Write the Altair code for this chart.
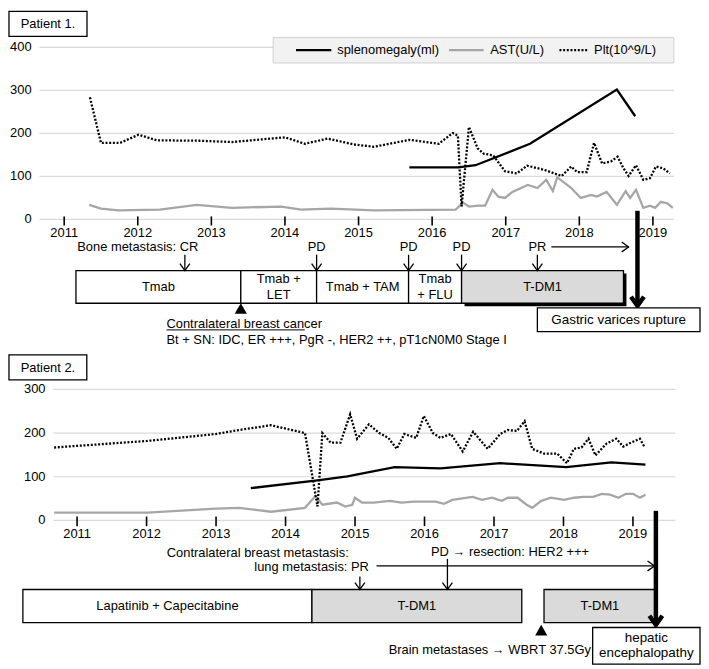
import altair as alt
import pandas as pd

FONT = "Liberation Sans"
FS = 13
GRID_C = "#d9d9d9"
AST_C = "#a6a6a6"
STIP_C = "#dadada"
DOT = [2, 1.7]
LW = 2.3

# ---------------- Patient 1 data ----------------
p1_plt_t = [2011.35, 2011.50, 2011.76, 2012.01, 2012.26, 2012.84, 2013.28, 2014.00, 2014.27, 2014.58,
            2014.95, 2015.21, 2015.69, 2016.09, 2016.28, 2016.35, 2016.40, 2016.50, 2016.62, 2016.70,
            2016.83, 2016.99, 2017.15, 2017.29, 2017.53, 2017.76, 2017.89, 2017.97, 2018.10, 2018.20,
            2018.31, 2018.43, 2018.52, 2018.60, 2018.67, 2018.77, 2018.87, 2018.96, 2019.04, 2019.14,
            2019.23]
p1_plt_v = [284, 178, 178, 197, 184, 183, 180, 191, 176, 188,
            174, 169, 185, 176, 201, 195, 30, 215, 165, 153,
            149, 112, 107, 125, 115, 101, 123, 110, 110, 178,
            130, 135, 146, 119, 101, 126, 92, 96, 123, 119,
            107]
p1_spl_t = [2015.69, 2016.36, 2016.59, 2017.33, 2018.51, 2018.76]
p1_spl_v = [121, 121, 126, 176, 302, 240]
p1_ast_t = [2011.34, 2011.50, 2011.74, 2012.30, 2012.80, 2013.28, 2013.95, 2014.22, 2014.62, 2015.21,
            2016.32, 2016.42, 2016.50, 2016.63, 2016.72, 2016.82, 2016.90, 2016.99, 2017.09, 2017.30,
            2017.43, 2017.55, 2017.64, 2017.70, 2017.80, 2017.89, 2018.02, 2018.16, 2018.24, 2018.37,
            2018.51, 2018.63, 2018.69, 2018.77, 2018.87, 2018.96, 2019.03, 2019.11, 2019.20, 2019.27]
p1_ast_v = [34, 25, 21, 23, 34, 27, 30, 23, 25, 21,
            23, 39, 30, 32, 32, 69, 53, 50, 64, 80,
            73, 92, 66, 98, 85, 73, 50, 57, 53, 64,
            34, 66, 50, 69, 27, 32, 27, 41, 37, 27]

p1_tx_start = [2011.16, 2013.40, 2014.43, 2015.68, 2016.40]
p1_tx_end = [2013.40, 2014.43, 2015.68, 2016.40, 2018.60]
p1_tx_label = ["Tmab", "Tmab +\nLET", "Tmab + TAM", "Tmab\n+ FLU", "T-DM1"]
p1_tx_kind = ["plain", "plain", "plain", "plain", "tdm1"]

p1_evt_t = [2012.64, 2014.43, 2015.68, 2016.40, 2017.43]
p1_evt_label = ["Bone metastasis: CR", "PD", "PD", "PD", "PR"]
p1_evt_label_t = [2012.00, 2014.43, 2015.68, 2016.40, 2017.43]
p1_resp_span = [2017.62, 2018.67]
p1_contra_t = 2013.40
p1_contra_title = "Contralateral breast cancer"
p1_contra_detail = "Bt + SN: IDC, ER +++, PgR -, HER2 ++, pT1cN0M0 Stage I"
p1_outcome_t = 2018.79
p1_outcome_text = "Gastric varices rupture"

# ---------------- Patient 2 data ----------------
p2_plt_t = [2010.67, 2012.01, 2013.00, 2013.33, 2013.79, 2014.28, 2014.46, 2014.53, 2014.65, 2014.79,
            2014.93, 2015.03, 2015.20, 2015.35, 2015.48, 2015.60, 2015.71, 2015.88, 2015.99, 2016.12,
            2016.23, 2016.38, 2016.55, 2016.70, 2016.91, 2017.09, 2017.20, 2017.33, 2017.44, 2017.55,
            2017.72, 2017.91, 2018.05, 2018.15, 2018.26, 2018.36, 2018.46, 2018.62, 2018.76, 2018.86,
            2018.97, 2019.10, 2019.17]
p2_plt_v = [167, 182, 198, 207, 218, 200, 32, 200, 178, 178,
            243, 187, 220, 200, 189, 164, 198, 189, 239, 200,
            189, 198, 158, 203, 164, 198, 207, 205, 227, 164,
            153, 153, 131, 164, 167, 187, 149, 176, 187, 169,
            178, 187, 167]
p2_spl_t = [2013.50, 2014.46, 2014.89, 2015.57, 2016.23, 2017.09, 2018.04, 2018.69, 2019.18]
p2_spl_v = [74, 92, 101, 122, 119, 131, 122, 133, 128]
p2_ast_t = [2010.67, 2012.01, 2013.00, 2013.33, 2013.79, 2014.28, 2014.43, 2014.53, 2014.74, 2014.86,
            2014.96, 2015.00, 2015.10, 2015.27, 2015.50, 2015.67, 2015.84, 2016.02, 2016.16, 2016.28,
            2016.40, 2016.52, 2016.69, 2016.83, 2016.97, 2017.11, 2017.20, 2017.34, 2017.47, 2017.55,
            2017.68, 2017.82, 2018.01, 2018.15, 2018.29, 2018.43, 2018.55, 2018.67, 2018.79, 2018.90,
            2019.00, 2019.10, 2019.18]
p2_ast_v = [18, 18, 27, 29, 20, 29, 56, 36, 41, 32,
            36, 52, 41, 41, 45, 41, 43, 43, 43, 38,
            47, 50, 54, 47, 52, 45, 52, 52, 36, 29,
            45, 52, 47, 52, 54, 54, 61, 59, 52, 61,
            61, 52, 59]

p2_tx_start = [2010.22, 2014.38, 2017.72]
p2_tx_end = [2014.38, 2017.40, 2019.33]
p2_tx_label = ["Lapatinib + Capecitabine", "T-DM1", "T-DM1"]
p2_tx_kind = ["plain", "tdm1", "tdm1"]

p2_evt_t = [2015.07, 2016.33]
p2_note_right = ["Contralateral breast metastasis:", "lung metastasis: PR"]
p2_note_right_t = [2014.91, 2015.20]
p2_pd_text = "PD \u2192 resection: HER2 +++"
p2_pd_text_t = 2017.23
p2_resp_span = [2015.31, 2019.31]
p2_brain_t = 2017.68
p2_brain_text = "Brain metastases \u2192 WBRT 37.5Gy"
p2_brain_text_t = 2016.94
p2_outcome_t = 2019.33
p2_outcome_box = [2018.42, 2019.965]
p2_outcome_text = "hepatic\nencephalopathy"

years = list(range(2011, 2020))
legend_names = ["splenomegaly(ml)", "AST(U/L)", "Plt(10^9/L)"]

ONE = pd.DataFrame({"k": [0]})
DOWN_V = "M-1,-1.4L0,0L1,-1.4"
RIGHT_V = "M-1.4,-1L0,0L-1.4,1"


class Panel:
    def __init__(self, xdom, ydom, w, h):
        self.xs = alt.Scale(domain=xdom, nice=False, zero=False)
        self.ys = alt.Scale(domain=ydom, nice=False, zero=False)
        self.w, self.h = w, h
        self.layers = []

    def X(self, v):
        if isinstance(v, str):
            return alt.X(v, type="quantitative", scale=self.xs, axis=None)
        return alt.XDatum(v, type="quantitative", scale=self.xs, axis=None)

    def Y(self, v):
        if isinstance(v, str):
            return alt.Y(v, type="quantitative", scale=self.ys, axis=None)
        return alt.YDatum(v, type="quantitative", scale=self.ys, axis=None)

    @staticmethod
    def X2(v):
        return alt.X2(v) if isinstance(v, str) else alt.X2Datum(v)

    @staticmethod
    def Y2(v):
        return alt.Y2(v) if isinstance(v, str) else alt.Y2Datum(v)

    def add(self, c):
        self.layers.append(c)

    def text(self, df, x, y, align="center", size=FS, line_h=15):
        nl = df["label"].str.count("\n")
        for n in sorted(nl.unique()):
            sub = df[nl == n]
            self.add(alt.Chart(sub).mark_text(align=align, baseline="middle", font=FONT, fontSize=size,
                                              color="black", lineBreak="\n", lineHeight=line_h,
                                              dy=-n * line_h / 2)
                     .encode(x=self.X(x), y=self.Y(y), text="label:N"))

    def chart(self):
        return alt.layer(*self.layers).properties(width=self.w, height=self.h)


def axes(p, grid_span, yticks, tick_top, tick_bot, label_y):
    g = pd.DataFrame({"v": yticks})
    p.add(alt.Chart(g).mark_rule(color=GRID_C, strokeWidth=1.2)
          .encode(x=p.X(grid_span[0]), x2=p.X2(grid_span[1]), y=p.Y("v")))
    p.add(alt.Chart(g).mark_text(align="right", baseline="middle", dx=-8, font=FONT, fontSize=FS, color="black")
          .encode(x=p.X(grid_span[0]), y=p.Y("v"), text=alt.Text("v:Q", format="d")))
    yr = pd.DataFrame({"t": years})
    p.add(alt.Chart(yr).mark_rule(color="black", strokeWidth=1.6)
          .encode(x=p.X("t"), y=p.Y(tick_top), y2=p.Y2(tick_bot)))
    p.add(alt.Chart(yr).mark_text(baseline="middle", font=FONT, fontSize=FS, color="black")
          .encode(x=p.X("t"), y=p.Y(label_y), text=alt.Text("t:Q", format="d")))


def series(p, ast_t, ast_v, spl_t, spl_v, plt_t, plt_v):
    p.add(alt.Chart(pd.DataFrame({"t": ast_t, "v": ast_v})).mark_line(color=AST_C, strokeWidth=LW)
          .encode(x=p.X("t"), y=p.Y("v")))
    p.add(alt.Chart(pd.DataFrame({"t": spl_t, "v": spl_v})).mark_line(color="black", strokeWidth=LW)
          .encode(x=p.X("t"), y=p.Y("v")))
    p.add(alt.Chart(pd.DataFrame({"t": plt_t, "v": plt_v}))
          .mark_line(color="black", strokeWidth=LW, strokeDash=DOT, strokeCap="butt")
          .encode(x=p.X("t"), y=p.Y("v")))


def box(p, x1, x2, y1, y2, fill="white", sw=1.3, stroke="black"):
    p.add(alt.Chart(ONE).mark_rect(fill=fill, stroke=stroke, strokeWidth=sw)
          .encode(x=p.X(x1), x2=p.X2(x2), y=p.Y(y1), y2=p.Y2(y2)))


def treatments(p, starts, ends, labels, kinds, top, bot, shadow=False):
    df = pd.DataFrame({"s": starts, "e": ends, "label": labels, "kind": kinds,
                       "mid": [(a + b) / 2 for a, b in zip(starts, ends)]})
    if shadow:
        p.add(alt.Chart(df[df.kind == "tdm1"]).mark_rect(color="black", xOffset=3, x2Offset=3, yOffset=3, y2Offset=3)
              .encode(x=p.X("s"), x2=p.X2("e"), y=p.Y(top), y2=p.Y2(bot)))
    p.add(alt.Chart(df).mark_rect(stroke="black", strokeWidth=1.3)
          .encode(x=p.X("s"), x2=p.X2("e"), y=p.Y(top), y2=p.Y2(bot),
                  fill=alt.Fill("kind:N", scale=alt.Scale(domain=["plain", "tdm1"], range=["white", STIP_C]),
                                legend=None)))
    p.text(df, "mid", (top + bot) / 2, line_h=16)


def down_arrows(p, ts, tops, bot):
    df = pd.DataFrame({"t": ts, "top": tops})
    p.add(alt.Chart(df).mark_rule(color="black", strokeWidth=1.3)
          .encode(x=p.X("t"), y=p.Y("top"), y2=p.Y2(bot)))
    p.add(alt.Chart(df).mark_point(shape=DOWN_V, filled=False, color="black", opacity=1, size=100,
                                   strokeWidth=1.3, strokeJoin="miter")
          .encode(x=p.X("t"), y=p.Y(bot)))


def right_arrow(p, span, y):
    p.add(alt.Chart(ONE).mark_rule(color="black", strokeWidth=1.3)
          .encode(x=p.X(span[0]), x2=p.X2(span[1]), y=p.Y(y)))
    p.add(alt.Chart(ONE).mark_point(shape=RIGHT_V, filled=False, color="black", opacity=1, size=100,
                                    strokeWidth=1.3, strokeJoin="miter")
          .encode(x=p.X(span[1]), y=p.Y(y)))


def thick_arrow(p, t, top, bot):
    p.add(alt.Chart(ONE).mark_rule(color="black", strokeWidth=4.5)
          .encode(x=p.X(t), y=p.Y(top), y2=p.Y2(bot)))
    p.add(alt.Chart(ONE).mark_point(shape=DOWN_V, filled=False, color="black", opacity=1, size=170,
                                    strokeWidth=4.5, strokeJoin="miter")
          .encode(x=p.X(t), y=p.Y(bot)))


def triangle(p, t, y):
    p.add(alt.Chart(ONE).mark_point(shape="triangle-up", filled=True, color="black", opacity=1, size=150)
          .encode(x=p.X(t), y=p.Y(y)))


def lab(texts, ts):
    return pd.DataFrame({"label": texts, "t": ts})


W = 696

# ---------------- Panel 1 ----------------
p1 = Panel([2010.25, 2019.64], [-292, 484], W, 336)
box(p1, 2010.25, 2011.31, 484, 426)
p1.text(lab(["Patient  1."], [2010.78]), "t", 455)
axes(p1, [2010.665, 2019.285], [0, 100, 200, 300, 400], 7, -14, -31)
# legend
box(p1, 2013.84, 2019.285, 423, 364, fill="#f2f2f2", sw=1, stroke="#d0d0d0")
leg = pd.DataFrame({"s": [2014.15, 2016.23, 2017.73], "e": [2014.63, 2016.70, 2018.13],
                    "label": legend_names, "tx": [2014.71, 2016.79, 2018.20]})
p1.add(alt.Chart(leg.iloc[[0]]).mark_rule(color="black", strokeWidth=LW)
       .encode(x=p1.X("s"), x2=p1.X2("e"), y=p1.Y(394)))
p1.add(alt.Chart(leg.iloc[[1]]).mark_rule(color=AST_C, strokeWidth=LW)
       .encode(x=p1.X("s"), x2=p1.X2("e"), y=p1.Y(394)))
p1.add(alt.Chart(leg.iloc[[2]]).mark_rule(color="black", strokeWidth=LW, strokeDash=DOT, strokeCap="butt")
       .encode(x=p1.X("s"), x2=p1.X2("e"), y=p1.Y(394)))
p1.text(leg, "tx", 394, align="left")
series(p1, p1_ast_t, p1_ast_v, p1_spl_t, p1_spl_v, p1_plt_t, p1_plt_v)
# timeline
treatments(p1, p1_tx_start, p1_tx_end, p1_tx_label, p1_tx_kind, -119, -195, shadow=True)
down_arrows(p1, p1_evt_t, [-82] * len(p1_evt_t), -119)
p1.text(lab(p1_evt_label, p1_evt_label_t), "t", -65)
right_arrow(p1, p1_resp_span, -64)
triangle(p1, p1_contra_t, -207)
p1.text(lab([p1_contra_title], [2012.39]), "t", -243, align="left")
p1.add(alt.Chart(ONE).mark_rule(color="black", strokeWidth=1)
       .encode(x=p1.X(2012.39), x2=p1.X2(2014.27), y=p1.Y(-257)))
p1.text(lab([p1_contra_detail], [2012.39]), "t", -281, align="left")
thick_arrow(p1, p1_outcome_t, 20, -201)
box(p1, 2017.43, 2019.64, -206, -261)
p1.text(lab([p1_outcome_text], [2018.535]), "t", -233, size=13.5)

# ---------------- Panel 2 ----------------
p2 = Panel([2010.02, 2019.965], [-330, 379], W, 312)
box(p2, 2010.02, 2011.14, 379, 322)
p2.text(lab(["Patient  2."], [2010.58]), "t", 350)
axes(p2, [2010.66, 2019.61], [0, 100, 200, 300], 9, -13, -31.5)
series(p2, p2_ast_t, p2_ast_v, p2_spl_t, p2_spl_v, p2_plt_t, p2_plt_v)
treatments(p2, p2_tx_start, p2_tx_end, p2_tx_label, p2_tx_kind, -158, -234)
down_arrows(p2, p2_evt_t, [-128, -88], -158)
p2.add(alt.Chart(pd.DataFrame({"label": p2_note_right, "t": p2_note_right_t, "v": [-74, -106]}))
       .mark_text(align="right", baseline="middle", font=FONT, fontSize=FS, color="black")
       .encode(x=p2.X("t"), y=p2.Y("v"), text="label:N"))
p2.text(lab([p2_pd_text], [p2_pd_text_t]), "t", -72)
right_arrow(p2, p2_resp_span, -104)
triangle(p2, p2_brain_t, -251)
p2.text(lab([p2_brain_text], [p2_brain_text_t]), "t", -297)
thick_arrow(p2, p2_outcome_t, 22, -239)
box(p2, p2_outcome_box[0], p2_outcome_box[1], -245, -329)
p2.text(lab([p2_outcome_text], [(p2_outcome_box[0] + p2_outcome_box[1]) / 2]), "t", -287, size=13.5,
        line_h=15)

chart = (alt.vconcat(p1.chart(), p2.chart(), spacing=6)
         .properties(padding=0, background="white")
         .configure_view(stroke=None))

chart.save("out.html", embed_options={"renderer": "svg", "actions": False})
